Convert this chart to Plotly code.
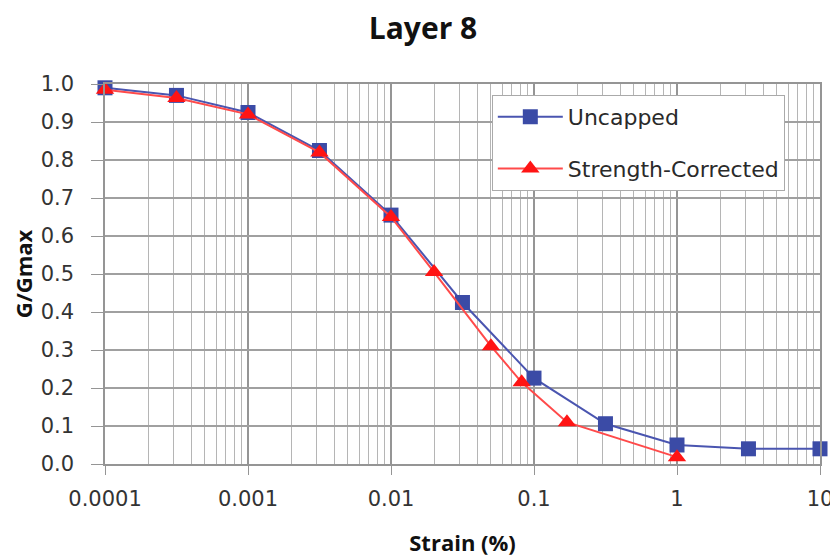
import plotly.graph_objects as go

strain_uncapped = [0.0001, 0.000316, 0.001, 0.00316, 0.01, 0.0316, 0.1, 0.316, 1, 3.16, 10]
g_uncapped = [0.99, 0.97, 0.925, 0.825, 0.655, 0.425, 0.226, 0.106, 0.05, 0.04, 0.04]

strain_corrected = [0.0001, 0.000316, 0.001, 0.00316, 0.01, 0.02, 0.05, 0.082, 0.17, 1]
g_corrected = [0.985, 0.963, 0.92, 0.82, 0.65, 0.505, 0.31, 0.215, 0.11, 0.018]

x_tickvals = [0.0001, 0.001, 0.01, 0.1, 1, 10]
x_ticktext = ["0.0001", "0.001", "0.01", "0.1", "1", "10"]
y_tickvals = [0.0, 0.1, 0.2, 0.3, 0.4, 0.5, 0.6, 0.7, 0.8, 0.9, 1.0]
y_ticktext = ["0.0", "0.1", "0.2", "0.3", "0.4", "0.5", "0.6", "0.7", "0.8", "0.9", "1.0"]

minor_vals = [m * 10 ** e for e in range(-4, 1) for m in range(2, 10)]

BLUE = "#3B4BA6"
RED = "#FF1414"
FONT = "Open Sans"
TICKFONT = "DejaVu Sans"

fig = go.Figure()
fig.add_trace(go.Scatter(
    x=strain_uncapped, y=g_uncapped, name="Uncapped", mode="lines+markers",
    legendgroup="a",
    line=dict(color="#4A55B0", width=2),
    marker=dict(symbol="square", size=15, color=BLUE),
))
fig.add_trace(go.Scatter(
    x=strain_corrected, y=g_corrected, name="Strength-Corrected", mode="lines+markers",
    legendgroup="b",
    line=dict(color="#FF4A4A", width=2),
    marker=dict(symbol="triangle-up", size=16, color=RED),
))

fig.update_layout(
    width=830, height=549,
    margin=dict(l=97, r=18, t=76, b=93, autoexpand=False),
    paper_bgcolor="white", plot_bgcolor="white",
    font=dict(family=FONT, color="#222222"),
    title=dict(text="<b>Layer 8</b>", x=0.5, xanchor="center", y=0.962, yanchor="middle",
               font=dict(size=30, family=FONT, color="#111111")),
    legend=dict(x=0.541, y=0.971, xanchor="left", yanchor="top",
                bordercolor="#AAAAAA", borderwidth=1, bgcolor="white",
                font=dict(size=22, family=TICKFONT, color="#2A2A2A"),
                traceorder="grouped", tracegroupgap=20, itemwidth=65),
    showlegend=True,
)
fig.update_xaxes(
    type="log", range=[-4, 1], automargin=False,
    tickvals=x_tickvals, ticktext=x_ticktext,
    tickfont=dict(size=21, family=TICKFONT, color="#333333"),
    showgrid=True, gridcolor="#959595", gridwidth=1.5,
    ticks="outside", ticklen=9, tickcolor="#959595", ticklabelstandoff=6,
    minor=dict(tickvals=minor_vals, showgrid=True, gridcolor="#B5B5B5", gridwidth=1, ticks=""),
    showline=True, linecolor="#959595", linewidth=1.5, mirror=True,
    zeroline=False,
    title=dict(text="<b>Strain (%)</b>", font=dict(size=22, family=FONT, color="#111111"), standoff=26),
)
fig.update_yaxes(
    range=[0, 1.0], automargin=False,
    tickvals=y_tickvals, ticktext=y_ticktext,
    tickfont=dict(size=21, family=TICKFONT, color="#333333"),
    showgrid=True, gridcolor="#A0A0A0", gridwidth=1.5,
    ticks="outside", ticklen=12, tickcolor="#959595", ticklabelstandoff=13,
    showline=True, linecolor="#959595", linewidth=1.5, mirror=True,
    zeroline=False,
    title=dict(text="<b>G/Gmax</b>", font=dict(size=22, family=FONT, color="#111111"), standoff=22),
)
fig.update_traces(cliponaxis=False)

fig.write_html("out.html")
